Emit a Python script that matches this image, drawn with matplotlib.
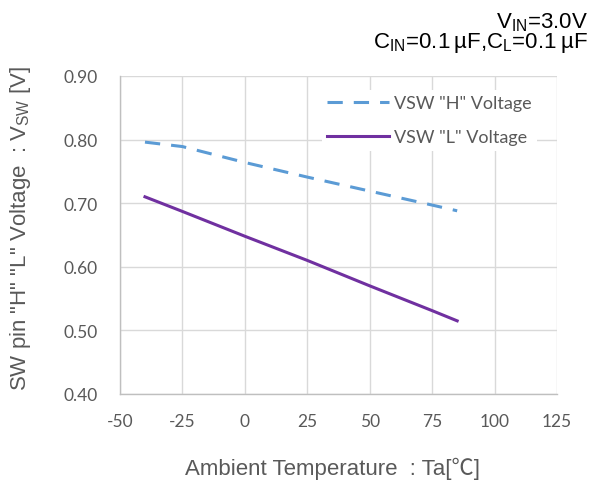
import matplotlib

matplotlib.use("Agg")
import matplotlib.pyplot as plt

# data
temp = [-40, -25, 0, 25, 50, 75, 85]
vsw_h = [0.796, 0.789, 0.764, 0.741, 0.719, 0.697, 0.688]
vsw_l = [0.710, 0.687, 0.648, 0.610, 0.570, 0.531, 0.515]

x_ticks = [-50, -25, 0, 25, 50, 75, 100, 125]
y_ticks = [0.40, 0.50, 0.60, 0.70, 0.80, 0.90]

TICK_FONT = ["Lato", "DejaVu Sans"]
LABEL_FONT = ["Liberation Sans", "Noto Sans CJK JP", "DejaVu Sans"]
GRAY = "#595959"

fig = plt.figure(figsize=(5.92, 4.85), dpi=100)
ax = fig.add_axes([0.2027, 0.1856, 0.7383, 0.6557])

ax.plot(temp, vsw_h, color="#5B9BD5", linewidth=2.2, dashes=(5, 3.6),
        label='VSW "H" Voltage')
ax.plot(temp, vsw_l, color="#7030A0", linewidth=2.2,
        label='VSW "L" Voltage')

ax.set_xlim(-50, 125)
ax.set_ylim(0.40, 0.90)
ax.set_xticks(x_ticks)
ax.set_yticks(y_ticks)
ax.set_xticklabels([str(t) for t in x_ticks])
ax.set_yticklabels([f"{v:.2f}" for v in y_ticks])
for lab in ax.get_xticklabels() + ax.get_yticklabels():
    lab.set_family(TICK_FONT)
    lab.set_fontsize(12.5)
    lab.set_color(GRAY)
ax.tick_params(axis="y", length=0, pad=16)
ax.tick_params(axis="x", length=0, pad=14)

ax.grid(True, color="#D9D9D9", linewidth=1.0)
ax.set_axisbelow(True)
for side in ["top", "right"]:
    ax.spines[side].set_visible(False)
for side in ["left", "bottom"]:
    ax.spines[side].set_color("#BFBFBF")
    ax.spines[side].set_linewidth(1.0)

ax.set_xlabel("Ambient Temperature  : Ta[℃]", family=LABEL_FONT,
              fontsize=16, color=GRAY)
ax.xaxis.set_label_coords(0.486, -0.198)
ax.set_ylabel(r'SW pin "H" "L" Voltage  : V$\mathregular{_{SW}}$ [V]',
              family=LABEL_FONT, fontsize=16, color=GRAY)
ax.yaxis.set_label_coords(-0.198, 0.525)

leg = ax.legend(loc="upper right", bbox_to_anchor=(0.975, 0.985), frameon=True,
                fancybox=False, edgecolor="none", facecolor="white",
                framealpha=1.0, handlelength=3.4, handletextpad=0.3,
                labelspacing=1.0, borderpad=0.3,
                prop={"family": TICK_FONT, "size": 13})
for t in leg.get_texts():
    t.set_color(GRAY)

condition = ("V$\\mathregular{_{IN}}$=3.0V\n"
             "C$\\mathregular{_{IN}}$=0.1\u2009µF,C$\\mathregular{_{L}}$=0.1\u2009µF")
fig.text(0.993, 0.902, condition, ha="right", va="baseline",
         multialignment="right", linespacing=0.8,
         family=LABEL_FONT, fontsize=16, color="black")

fig.savefig("out.png", dpi=100)
plt.close(fig)
